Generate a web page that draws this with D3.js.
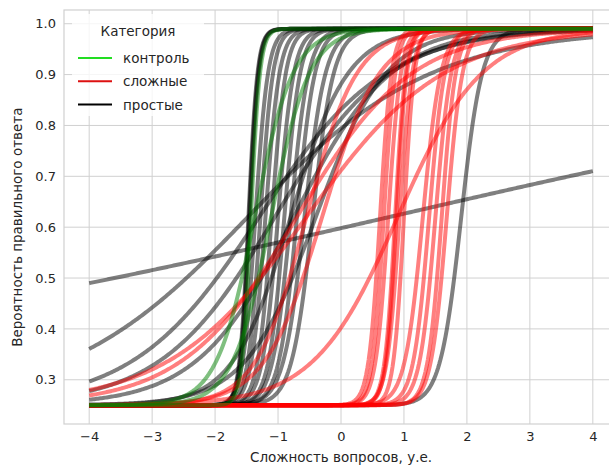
<!DOCTYPE html>
<html>
<head>
<meta charset="utf-8">
<script src="https://cdn.jsdelivr.net/npm/d3@7"></script>
<style>
  body { margin: 0; background: #fff; }
  text { font-family: "DejaVu Sans", sans-serif; fill: #262626; }
  .grid line { stroke: #d0d0d0; stroke-width: 1; }
  .axis path, .axis line { display: none; }
  .axis text { font-size: 13px; }
</style>
</head>
<body>
<svg width="609" height="466"></svg>
<script>
// item parameters (3PL/4PL): discrimination a, difficulty b
var categories = ["контроль", "сложные", "простые"];
var colors = {"контроль": "#008000", "сложные": "#ff0000", "простые": "#000000"};
var legendColors = {"контроль": "#22dd22", "сложные": "#dd1111", "простые": "#000000"};

var easyA = [0.154, 0.69, 1.0, 1.1, 1.3, 2.2, 1.8, 14, 14, 14, 10, 10, 9, 9, 8, 8, 7, 7, 6, 6, 6];
var easyB = [0.77, -1.48, -1.3, -1.05, -0.75, -0.8, -0.4, -1.47, -1.46, -1.45, -1.36, -1.28, -1.2, -1.1, -1.0, -0.9, -0.8, -0.7, -0.58, -0.45, 1.91];

var hardA = [0.92, 1.1, 2.5, 2.2, 1.5, 11, 11, 10, 12, 12, 10, 12, 8, 8, 9, 8, 7];
var hardB = [-0.55, -0.7, -0.55, -0.3, 0.9, 0.62, 0.68, 0.75, 0.86, 0.88, 0.93, 1.0, 1.4, 1.5, 1.6, 1.68, 1.3];

var controlA = [14, 3.3, 3.3];
var controlB = [-1.43, -1.37, -1.11];

var guessing = 0.25, ceiling = 0.99;
var xTicks = [-4, -3, -2, -1, 0, 1, 2, 3, 4];
var yTicks = [0.3, 0.4, 0.5, 0.6, 0.7, 0.8, 0.9, 1.0];

var svg = d3.select("svg"),
    margin = {top: 10, right: -9, bottom: 42, left: 64},
    width = +svg.attr("width") - margin.left - margin.right,
    height = +svg.attr("height") - margin.top - margin.bottom;

var x = d3.scaleLinear().domain([-4.4, 4.4]).range([0, width]),
    y = d3.scaleLinear().domain([0.213, 1.027]).range([height, 0]);

var chart = svg.append("g")
    .attr("transform", "translate(" + margin.left + "," + margin.top + ")");

// grid
chart.append("g").attr("class", "grid")
  .selectAll("line").data(xTicks).enter().append("line")
    .attr("x1", function(d) { return x(d); }).attr("x2", function(d) { return x(d); })
    .attr("y1", 0).attr("y2", height);
chart.append("g").attr("class", "grid")
  .selectAll("line").data(yTicks).enter().append("line")
    .attr("x1", 0).attr("x2", width)
    .attr("y1", function(d) { return y(d); }).attr("y2", function(d) { return y(d); });

// frame
chart.append("rect")
    .attr("width", width).attr("height", height)
    .attr("fill", "none").attr("stroke", "#d0d0d0").attr("stroke-width", 1.2);

// axes
chart.append("g")
    .attr("class", "axis")
    .attr("transform", "translate(0," + height + ")")
    .call(d3.axisBottom(x).tickValues(xTicks).tickSize(0).tickPadding(8)
      .tickFormat(function(d) { return d < 0 ? "\u2212" + Math.abs(d) : d; }));
chart.append("g")
    .attr("class", "axis")
    .call(d3.axisLeft(y).tickValues(yTicks).tickSize(0).tickPadding(8).tickFormat(d3.format(".1f")));

svg.append("text")
    .attr("x", margin.left + x(0)).attr("y", 462)
    .attr("text-anchor", "middle").style("font-size", "13.5px")
    .text("Сложность вопросов, у.е.");
svg.append("text")
    .attr("transform", "translate(22," + (margin.top + y(0.6)) + ") rotate(-90)")
    .attr("text-anchor", "middle").style("font-size", "13.5px")
    .text("Вероятность правильного ответа");

// curves
var theta = d3.range(-4, 4.0001, 0.02);
function icc(a, b) {
  return theta.map(function(t) {
    return [t, guessing + (ceiling - guessing) / (1 + Math.exp(-a * (t - b)))];
  });
}
var line = d3.line()
    .x(function(d) { return x(d[0]); })
    .y(function(d) { return y(d[1]); });

var groups = [
  {cat: "простые", a: easyA, b: easyB},
  {cat: "сложные", a: hardA, b: hardB},
  {cat: "контроль", a: controlA, b: controlB}
];

var plot = chart.append("g");
groups.forEach(function(g) {
  plot.selectAll(null)
      .data(g.a.map(function(a, i) { return icc(a, g.b[i]); }))
    .enter().append("path")
      .attr("d", line)
      .attr("fill", "none")
      .attr("stroke", colors[g.cat])
      .attr("stroke-opacity", 0.5)
      .attr("stroke-width", 4)
      .attr("stroke-linejoin", "round");
});

// legend
var legend = chart.append("g").attr("transform", "translate(8,4)");
legend.append("rect")
    .attr("width", 132).attr("height", 102).attr("rx", 3)
    .attr("fill", "#fff").attr("fill-opacity", 0.8);
legend.append("text")
    .attr("x", 66).attr("y", 22).attr("text-anchor", "middle")
    .style("font-size", "13.5px").text("Категория");
var item = legend.selectAll(".item").data(categories).enter().append("g")
    .attr("transform", function(d, i) { return "translate(0," + (44 + i * 23.3) + ")"; });
item.append("line")
    .attr("x1", 6).attr("x2", 40).attr("y1", 0).attr("y2", 0)
    .attr("stroke", function(d) { return legendColors[d]; })
    .attr("stroke-width", 2);
item.append("text")
    .attr("x", 51).attr("y", 5)
    .style("font-size", "13.5px")
    .text(function(d) { return d; });
</script>
</body>
</html>
